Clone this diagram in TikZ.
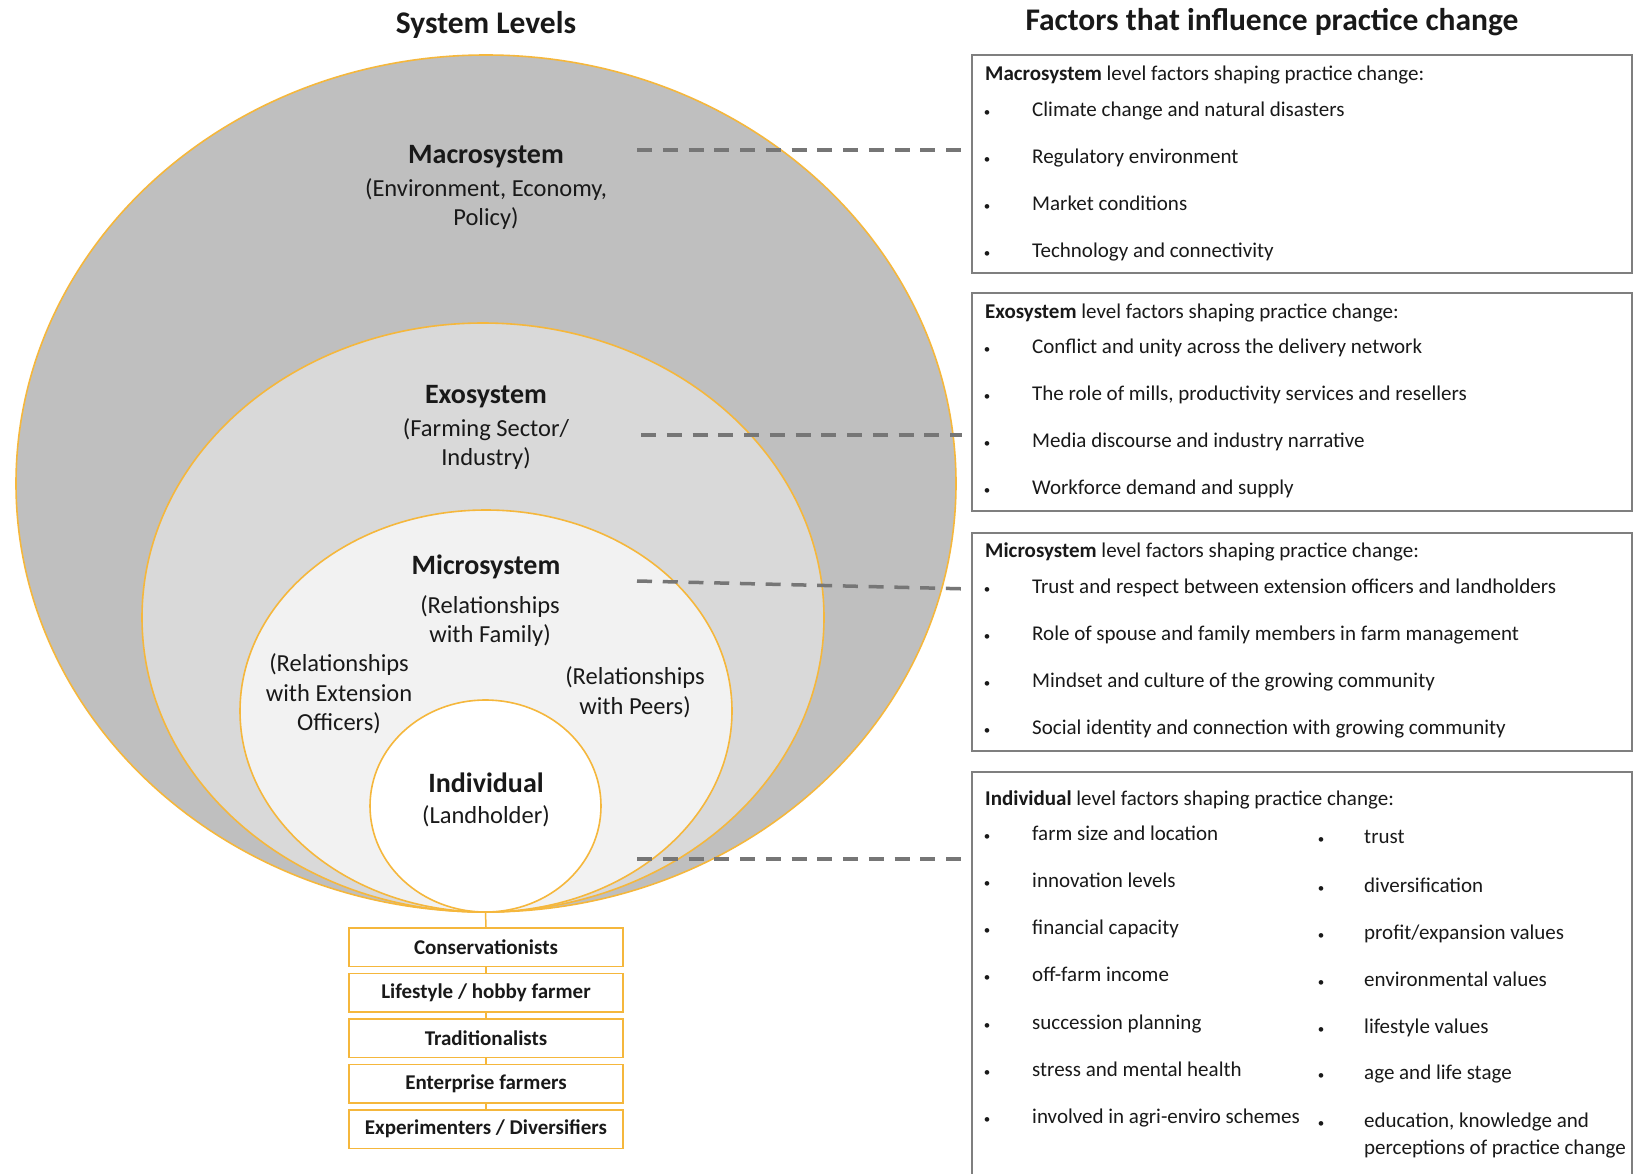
\documentclass[tikz,border=0pt]{standalone}
\usepackage{fontspec}
\setmainfont{Carlito}
\usetikzlibrary{shapes.geometric}
\definecolor{gold}{RGB}{245,183,60}
\definecolor{macrofill}{RGB}{191,191,191}
\definecolor{exofill}{RGB}{217,217,217}
\definecolor{microfill}{RGB}{242,242,242}
\definecolor{boxline}{RGB}{127,127,127}
\definecolor{dashcol}{RGB}{118,118,118}
\definecolor{txt}{RGB}{25,25,25}
\begin{document}
\begin{tikzpicture}[x=1pt,y=-1pt,
  level/.style={ellipse, draw=gold, line width=1.6pt, inner sep=0pt},
  lvlname/.style={font=\fontsize{28}{33}\selectfont\bfseries, text=txt, inner sep=0pt},
  lvlsub/.style={font=\fontsize{24.5}{29.5}\selectfont, align=center, text=txt, inner sep=0pt},
  title/.style={font=\fontsize{31.5}{36}\selectfont\bfseries, text=txt, inner sep=0pt},
  factorbox/.style={draw=boxline, line width=2pt, anchor=north west, inner sep=0pt, minimum width=660pt},
  head/.style={font=\fontsize{21}{25}\selectfont, anchor=base west, inner sep=0pt, text=txt},
  item/.style={font=\fontsize{21}{25}\selectfont, anchor=base west, inner sep=0pt, text=txt},
  bul/.style={font=\fontsize{13}{13}\selectfont, anchor=base, inner sep=0pt, text=txt},
  typebox/.style={draw=gold, line width=1.8pt, fill=white, anchor=north, minimum width=274pt, minimum height=38.5pt, inner sep=0pt, font=\fontsize{21}{25}\selectfont\bfseries, text=txt},
  typelink/.style={draw=gold, line width=1.5pt},
  link/.style={draw=dashcol, line width=3.5pt, dash pattern=on 15pt off 10.75pt, shorten >=9pt},
]
\useasboundingbox (0,0) rectangle (1635,1173);
\fill[white] (0,0) rectangle (1635,1173);

% titles
\node[title] (tleft) at (486,25) {System Levels};
\node[title] (tright) at (1272,22) {Factors that influence practice change};

% nested system levels
\node[level, fill=macrofill, minimum width=940pt, minimum height=857pt] (macro) at (486,483.5) {};
\node[level, fill=exofill, minimum width=682pt, minimum height=589pt] (exo) at (483,617.5) {};
\node[level, fill=microfill, minimum width=492pt, minimum height=402pt] (micro) at (486,711) {};
\node[level, fill=white, minimum width=231pt, minimum height=212pt] (indiv) at (485.5,806) {};

% typology boxes
\node[typebox] (t1) at (486,927) {Conservationists};
\node[typebox] (t2) at (486,972.5) {Lifestyle / hobby farmer};
\node[typebox] (t3) at (486,1018) {Traditionalists};
\node[typebox] (t4) at (486,1063.5) {Enterprise farmers};
\node[typebox] (t5) at (486,1109) {Experimenters / Diversifiers};
\draw[typelink] (indiv.south) -- (t1.north);
\draw[typelink] (t1.south) -- (t2.north);
\draw[typelink] (t2.south) -- (t3.north);
\draw[typelink] (t3.south) -- (t4.north);
\draw[typelink] (t4.south) -- (t5.north);

% factor boxes
\node[factorbox, minimum height=218pt] (fmacro) at (971,54) {};
\node[factorbox, minimum height=218pt] (fexo) at (971,292) {};
\node[factorbox, minimum height=218pt] (fmicro) at (971,532) {};
\node[factorbox, minimum height=404pt] (findiv) at (971,771) {};

% dashed links
\coordinate (lmacro) at (637,150);
\coordinate (lexo) at (641,435);
\coordinate (lmicro) at (637,581);
\coordinate (lmicroend) at (971,589);
\coordinate (lindiv) at (637,859);
\draw[link] (lmacro) -- (lmacro -| fmacro.west);
\draw[link] (lexo) -- (lexo -| fexo.west);
\draw[link] (lmicro) -- (lmicroend -| fmicro.west);
\draw[link] (lindiv) -- (lindiv -| findiv.west);

% level labels
\node[lvlname] (macron) at (486,157) {Macrosystem};
\node[lvlsub] (macros) at (486,204) {(Environment, Economy,\\Policy)};
\node[lvlname] (exon) at (486,397) {Exosystem};
\node[lvlsub] (exos) at (486,444) {(Farming Sector/\\Industry)};
\node[lvlname] (micron) at (486,567) {Microsystem};
\node[lvlsub] (micros) at (490,621) {(Relationships\\with Family)};
\node[lvlsub] (microl) at (339,694) {(Relationships\\with Extension\\Officers)};
\node[lvlsub] (micror) at (635,692) {(Relationships\\with Peers)};
\node[lvlname] (indivn) at (486,783) {Individual};
\node[lvlsub] (indivs) at (486,816) {(Landholder)};

% macro box text
\node[head] (hmacro) at (985,80) {\textbf{Macrosystem} level factors shaping practice change:};
\node[bul] (bm1) at (987,116) {•};
\node[item] (im1) at (1032,116) {Climate change and natural disasters};
\node[bul] (bm2) at (987,163) {•};
\node[item] (im2) at (1032,163) {Regulatory environment};
\node[bul] (bm3) at (987,210) {•};
\node[item] (im3) at (1032,210) {Market conditions};
\node[bul] (bm4) at (987,257) {•};
\node[item] (im4) at (1032,257) {Technology and connectivity};

% exo box text
\node[head] (hexo) at (985,318) {\textbf{Exosystem} level factors shaping practice change:};
\node[bul] (be1) at (987,353) {•};
\node[item] (ie1) at (1032,353) {Conflict and unity across the delivery network};
\node[bul] (be2) at (987,400) {•};
\node[item] (ie2) at (1032,400) {The role of mills, productivity services and resellers};
\node[bul] (be3) at (987,447) {•};
\node[item] (ie3) at (1032,447) {Media discourse and industry narrative};
\node[bul] (be4) at (987,494) {•};
\node[item] (ie4) at (1032,494) {Workforce demand and supply};

% micro box text
\node[head] (hmicro) at (985,557) {\textbf{Microsystem} level factors shaping practice change:};
\node[bul] (bi1) at (987,593) {•};
\node[item] (ii1) at (1032,593) {Trust and respect between extension officers and landholders};
\node[bul] (bi2) at (987,640) {•};
\node[item] (ii2) at (1032,640) {Role of spouse and family members in farm management};
\node[bul] (bi3) at (987,687) {•};
\node[item] (ii3) at (1032,687) {Mindset and culture of the growing community};
\node[bul] (bi4) at (987,734) {•};
\node[item] (ii4) at (1032,734) {Social identity and connection with growing community};

% individual box text
\node[head] (hindiv) at (985,805) {\textbf{Individual} level factors shaping practice change:};
\node[bul] (bl1) at (987,840) {•};
\node[item] (il1) at (1032,840) {farm size and location};
\node[bul] (bl2) at (987,887) {•};
\node[item] (il2) at (1032,887) {innovation levels};
\node[bul] (bl3) at (987,934) {•};
\node[item] (il3) at (1032,934) {financial capacity};
\node[bul] (bl4) at (987,981) {•};
\node[item] (il4) at (1032,981) {off-farm income};
\node[bul] (bl5) at (987,1029) {•};
\node[item] (il5) at (1032,1029) {succession planning};
\node[bul] (bl6) at (987,1076) {•};
\node[item] (il6) at (1032,1076) {stress and mental health};
\node[bul] (bl7) at (987,1123) {•};
\node[item] (il7) at (1032,1123) {involved in agri-enviro schemes};

\node[bul] (br1) at (1321,843) {•};
\node[item] (ir1) at (1364,843) {trust};
\node[bul] (br2) at (1321,892) {•};
\node[item] (ir2) at (1364,892) {diversification};
\node[bul] (br3) at (1321,939) {•};
\node[item] (ir3) at (1364,939) {profit/expansion values};
\node[bul] (br4) at (1321,986) {•};
\node[item] (ir4) at (1364,986) {environmental values};
\node[bul] (br5) at (1321,1033) {•};
\node[item] (ir5) at (1364,1033) {lifestyle values};
\node[bul] (br6) at (1321,1079) {•};
\node[item] (ir6) at (1364,1079) {age and life stage};
\node[bul] (br7) at (1321,1127) {•};
\node[item] (ir7) at (1364,1127) {education, knowledge and};
\node[item] (ir7b) at (1364,1154) {perceptions of practice change};
\end{tikzpicture}
\end{document}
